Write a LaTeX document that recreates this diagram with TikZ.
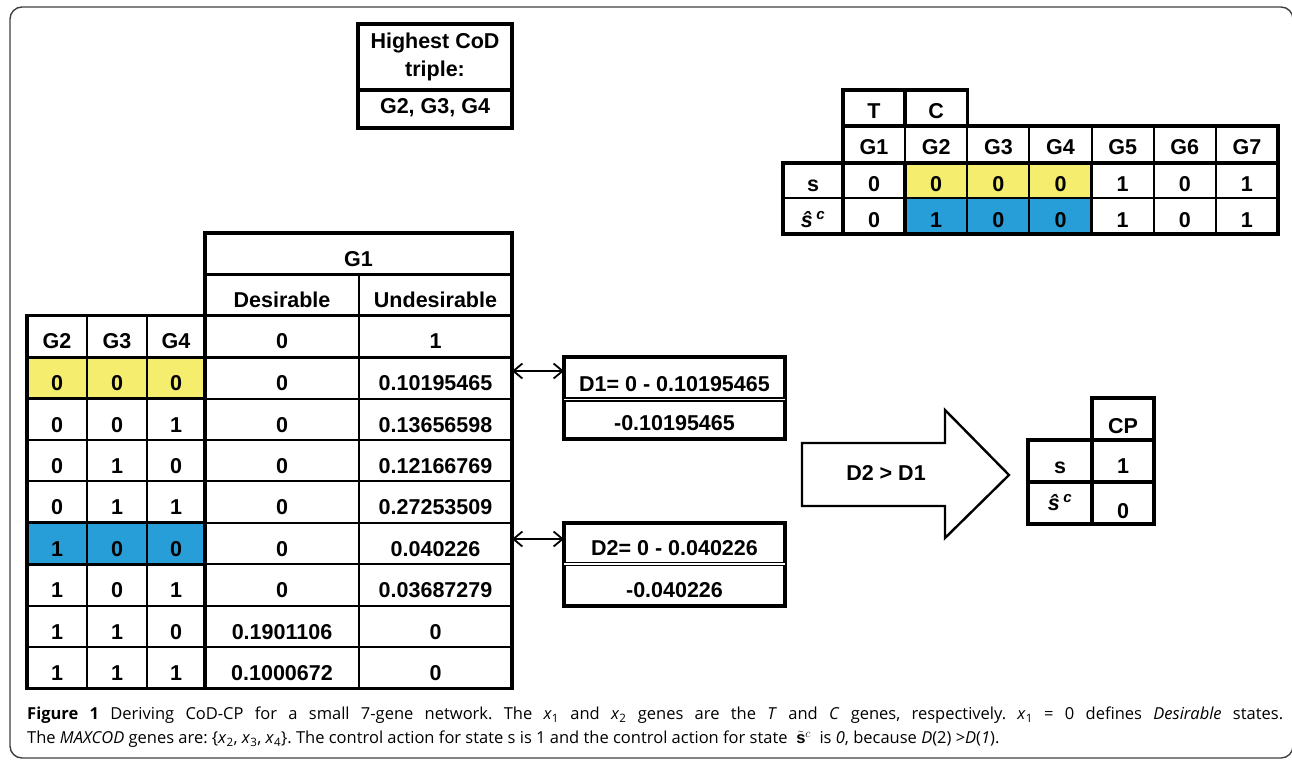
\documentclass[tikz,border=0pt]{standalone}
\usepackage{fontspec}
\setmainfont{Liberation Sans}
\newfontfamily\capfont{Open Sans}
\usepackage{tikz}
\usetikzlibrary{arrows.meta}
\definecolor{markyellow}{RGB}{244,237,110}
\definecolor{markblue}{RGB}{40,158,216}
\newcommand{\shatc}{\textit{ŝ}\,\textsuperscript{\textit{c}}}
\tikzset{
  thin rule/.style={line width=2pt},
  thick rule/.style={line width=3.3pt},
  cell/.style={font=\fontsize{21.5}{24}\selectfont\bfseries, anchor=base, inner sep=0pt},
  link/.style={line width=1.8pt, {Straight Barb[length=9pt,width=15pt]}-{Straight Barb[length=9pt,width=15pt]}}
}
\begin{document}
\begin{tikzpicture}[x=1pt, y=-1pt]
	\useasboundingbox (0,0) rectangle (1292,761);
	\draw[black!75, line width=1.4pt, rounded corners=12pt] (10,7) rectangle (1293,758);

	\draw[thick rule] (358,24) rectangle (512,128);
	\draw[thick rule] (358,90) -- (512,90);
	\node[cell] (cod1) at (435,48) {Highest CoD};
	\node[cell] (cod2) at (435,76) {triple:};
	\node[cell] (codg) at (435,113) {G2, G3, G4};

	\fill[markyellow] (905.1,163) rectangle (1091.6,198);
	\fill[markblue] (905.1,198) rectangle (1091.6,234);
	\foreach \i in {1,...,6}
		\draw[thin rule] (843+62.14*\i,126) -- (843+62.14*\i,234);
	\draw[thin rule] (783,198) -- (1278,198);
	\draw[thick rule] (843,90) rectangle (967.3,126);
	\draw[thick rule] (905.1,90) -- (905.1,126);
	\draw[thick rule] (843,126) -- (1278,126) -- (1278,234) -- (783,234) -- (783,163) -- (843,163) -- cycle;
	\draw[thick rule] (783,163) -- (1278,163);
	\draw[thick rule] (843,126) -- (843,234);
	\draw[thick rule] (905.1,163) rectangle (1091.6,234);
	\node[cell] (tgene) at (874,118) {T};
	\node[cell] (cgene) at (936.2,118) {C};
	\node[cell] (srow) at (813,191.7) {s};
	\node[cell] (scrow) at (813,227) {\shatc};
	\foreach \s/\c [count=\i] in {0/0,0/1,0/0,0/0,1/1,0/0,1/1}{
		\node[cell] (gene\i) at (843+62.14*\i-31.07,154) {G\i};
		\node[cell] (s\i) at (843+62.14*\i-31.07,191.7) {\s};
		\node[cell] (sc\i) at (843+62.14*\i-31.07,227) {\c};
	}

	\fill[markyellow] (27,357.2) rectangle (205,398.6);
	\fill[markblue] (27,522.8) rectangle (205,564.2);
	\foreach \y in {398.6,440,481.4,522.8,564.2,605.6,647}
		\draw[thin rule] (27,\y) -- (512,\y);
	\foreach \x in {87,147}
		\draw[thin rule] (\x,315.8) -- (\x,688.4);
	\draw[thin rule] (359,274.4) -- (359,688.4);
	\draw[thick rule] (205,233) rectangle (512,315.8);
	\draw[thick rule] (205,274.4) -- (512,274.4);
	\draw[thick rule] (27,315.8) rectangle (512,688.4);
	\draw[thick rule] (27,357.2) -- (512,357.2);
	\draw[thick rule] (205,315.8) -- (205,688.4);
	\draw[thick rule] (27,357.2) rectangle (205,398.6);
	\draw[thick rule] (27,522.8) rectangle (205,564.2);
	\node[cell] (g1head) at (358.5,266.5) {G1};
	\node[cell] (deshead) at (282,307) {Desirable};
	\node[cell] (undhead) at (435.5,307) {Undesirable};
	\node[cell] (g2head) at (57,348.5) {G2};
	\node[cell] (g3head) at (117,348.5) {G3};
	\node[cell] (g4head) at (176,348.5) {G4};
	\node[cell] (deszero) at (282,348.5) {0};
	\node[cell] (undone) at (435.5,348.5) {1};
	\foreach \a/\b/\c/\d/\u [count=\i] in {0/0/0/0/0.10195465, 0/0/1/0/0.13656598,
		0/1/0/0/0.12166769, 0/1/1/0/0.27253509, 1/0/0/0/0.040226, 1/0/1/0/0.03687279,
		1/1/0/0.1901106/0, 1/1/1/0.1000672/0}{
		\node[cell] (gtwo\i) at (57,349.2+41.4*\i) {\a};
		\node[cell] (gthree\i) at (117,349.2+41.4*\i) {\b};
		\node[cell] (gfour\i) at (176,349.2+41.4*\i) {\c};
		\node[cell] (des\i) at (282,349.2+41.4*\i) {\d};
		\node[cell] (und\i) at (435.5,349.2+41.4*\i) {\u};
	}

	\draw[thick rule] (564,357) rectangle (785,439);
	\draw[line width=1.5pt, double distance=1.2pt] (564,399.5) -- (785,399.5);
	\node[cell] (dfirst) at (674.5,391) {D1= 0 - 0.10195465};
	\node[cell] (dfirstval) at (674.5,430) {-0.10195465};
	\draw[thick rule] (564,523) rectangle (785,606);
	\draw[line width=1.5pt, double distance=1.2pt] (564,564) -- (785,564);
	\node[cell] (dsecond) at (674.5,555) {D2= 0 - 0.040226};
	\node[cell] (dsecondval) at (674.5,597) {-0.040226};
	\coordinate (rowfirst) at (512,371);
	\coordinate (rowsecond) at (512,539);
	\coordinate (boxfirst) at (564,371);
	\coordinate (boxsecond) at (564,539);
	\draw[link] (rowfirst) -- (boxfirst);
	\draw[link] (rowsecond) -- (boxsecond);

	\draw[line width=2.4pt, line join=miter] (802,443) -- (945,443) -- (945,410) -- (1009,475)
		-- (945,538) -- (945,506) -- (802,506) -- cycle;
	\node[cell] (compare) at (886,480) {D2 > D1};

	\draw[thick rule] (1092,398) rectangle (1154,440);
	\draw[thick rule] (1028,440) rectangle (1154,524);
	\draw[thick rule] (1092,440) -- (1092,524);
	\draw[thick rule] (1028,482) -- (1154,482);
	\node[cell] (cphead) at (1123,433) {CP};
	\node[cell] (cps) at (1060,473) {s};
	\node[cell] (cpsval) at (1123,473) {1};
	\node[cell] (cpsc) at (1060,510) {\shatc};
	\node[cell] (cpscval) at (1123,518) {0};

	\node[anchor=north west, inner sep=0pt, text width=1256pt, align=justify,
		font=\capfont\fontsize{16.5}{24}\selectfont\frenchspacing] (caption) at (27,707) {\textbf{Figure 1} Deriving CoD-CP for a small 7-gene network. The \textit{x}\textsubscript{1} and \textit{x}\textsubscript{2} genes are the \textit{T} and \textit{C} genes, respectively. \textit{x}\textsubscript{1} = 0 defines \textit{Desirable} states.\linebreak
		The \textit{MAXCOD} genes are: \{\textit{x}\textsubscript{2}, \textit{x}\textsubscript{3}, \textit{x}\textsubscript{4}\}. The control action for state s is 1 and the control action for state~ $\tilde{\mathbf{s}}^{c}$~ is \textit{0}, because \textit{D}(2) >\textit{D}(\textit{1}).};
\end{tikzpicture}
\end{document}
